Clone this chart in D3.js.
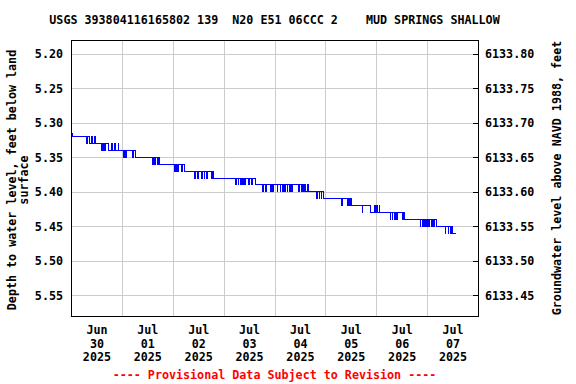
<!DOCTYPE html>
<html>
<head>
<meta charset="utf-8">
<script src="https://cdn.jsdelivr.net/npm/d3@7"></script>
<style>
  html, body { margin: 0; padding: 0; background: #fff; }
  svg { display: block; }
  text { font-family: "DejaVu Sans Mono", monospace; font-weight: bold; font-size: 11.7px; fill: #000; white-space: pre; }
</style>
</head>
<body>
<svg id="chart" width="576" height="384"></svg>
<script>
// ---- data ----
const titleText = "USGS 393804116165802 139  N20 E51 06CCC 2    MUD SPRINGS SHALLOW";
const leftTitle = ["Depth to water level, feet below land", "surface"];
const rightTitle = "Groundwater level above NAVD 1988, feet";
const footerText = "---- Provisional Data Subject to Revision ----";
const startDate = "2025-06-30T00:00:00Z";
const endDate = "2025-07-08T00:00:00Z";
const dayLabels = [["Jun","30","2025"],["Jul","01","2025"],["Jul","02","2025"],["Jul","03","2025"],
                   ["Jul","04","2025"],["Jul","05","2025"],["Jul","06","2025"],["Jul","07","2025"]];
const depthTicks = [5.20, 5.25, 5.30, 5.35, 5.40, 5.45, 5.50, 5.55];
const elevTicks = [6133.80, 6133.75, 6133.70, 6133.65, 6133.60, 6133.55, 6133.50, 6133.45];
const datumOffset = 6139.00; // elevation = datumOffset - depth
// [hours after start, depth in ft below land surface]
const observations = [
  [0.0,5.316],[0.6,5.32],[7.5,5.33],[8.0,5.32],[8.8,5.33],[9.8,5.32],[10.3,5.33],[11.0,5.32],[11.5,5.33],
  [14.3,5.34],[14.7,5.33],[15.2,5.34],[15.6,5.33],[16.0,5.34],[16.4,5.33],[17.5,5.34],
  [19.3,5.33],[19.7,5.34],[20.6,5.33],[21.0,5.34],[22.2,5.33],[22.6,5.34],
  [25.0,5.35],[25.4,5.34],[25.9,5.35],[26.3,5.34],[28.8,5.35],[29.6,5.34],[30.2,5.35],
  [38.4,5.36],[38.8,5.35],[39.3,5.36],[39.7,5.35],[40.9,5.36],[41.4,5.35],[41.9,5.36],
  [48.6,5.37],[49.0,5.36],[49.5,5.37],[49.9,5.36],[50.3,5.37],[50.8,5.36],[52.2,5.37],[52.7,5.36],[53.4,5.37],
  [58.2,5.38],[58.6,5.37],[59.7,5.38],[60.1,5.37],[61.7,5.38],[62.1,5.37],[62.8,5.38],[63.2,5.37],[63.8,5.38],[64.2,5.37],
  [66.4,5.38],[66.8,5.37],[67.2,5.38],
  [77.8,5.39],[78.2,5.38],[78.8,5.39],[79.2,5.38],[79.8,5.39],[80.2,5.38],[80.8,5.39],[81.2,5.38],[81.7,5.39],[82.1,5.38],
  [83.8,5.39],[84.2,5.38],[85.1,5.39],[85.5,5.38],[87.0,5.39],
  [90.4,5.40],[90.8,5.39],[91.7,5.40],[92.1,5.39],[94.0,5.40],[94.4,5.39],[95.2,5.40],[95.6,5.39],
  [97.2,5.40],[97.6,5.39],[98.6,5.40],[99.0,5.39],[99.7,5.40],[100.1,5.39],[100.8,5.40],[101.2,5.39],
  [101.9,5.40],[102.3,5.39],[103.0,5.40],[103.4,5.39],[104.2,5.40],[104.6,5.39],
  [107.4,5.40],[107.8,5.39],[108.6,5.40],[109.0,5.39],[109.6,5.40],[110.0,5.39],[110.4,5.40],[111.8,5.39],[112.2,5.40],
  [116.0,5.41],[116.4,5.40],[117.0,5.41],[117.4,5.40],[118.0,5.41],[118.4,5.40],[118.9,5.41],
  [127.5,5.42],[127.9,5.41],[130.4,5.42],[130.8,5.41],[131.4,5.42],[131.8,5.41],[132.2,5.42],
  [137.3,5.43],[137.7,5.42],[141.1,5.43],
  [143.3,5.42],[143.7,5.43],[144.3,5.42],[144.7,5.43],[145.3,5.42],[145.7,5.43],
  [150.5,5.44],[150.9,5.43],[151.5,5.44],[151.9,5.43],[152.5,5.44],[152.9,5.43],[153.4,5.44],[153.8,5.43],
  [156.3,5.44],[156.7,5.43],[157.2,5.44],
  [164.7,5.45],[165.1,5.44],[165.7,5.45],[166.1,5.44],[166.7,5.45],[167.1,5.44],[167.7,5.45],[168.1,5.44],
  [168.7,5.45],[169.1,5.44],[169.9,5.45],[170.3,5.44],[171.1,5.45],[171.5,5.44],[172.5,5.45],
  [176.5,5.46],[176.9,5.45],[177.9,5.46],[178.3,5.45],[179.0,5.46],[179.4,5.45],[180.0,5.46],[181.4,5.46]
];

// ---- layout ----
const svg = d3.select("#chart");
const L = 71, R = 478, T = 40, B = 316;
const t0 = new Date(startDate), t1 = new Date(endDate);
const x = d3.scaleUtc().domain([t0, t1]).range([L, R]);
const y = d3.scaleLinear().domain([5.18, 5.58]).range([T, B]);
const yR = d3.scaleLinear().domain([datumOffset - 5.18, datumOffset - 5.58]).range([T, B]);
const HOUR = 3600e3;
const midnights = d3.range(1, 8).map(i => new Date(+t0 + i * 24 * HOUR));
const noons = dayLabels.map((d, i) => new Date(+t0 + (i * 24 + 12) * HOUR));

// gridlines
const grid = svg.append("g").attr("shape-rendering", "crispEdges");
grid.selectAll("line.v").data(midnights).join("line")
  .attr("x1", d => Math.round(x(d)) + 0.5).attr("x2", d => Math.round(x(d)) + 0.5)
  .attr("y1", T).attr("y2", B).attr("stroke", "#cccccc");
grid.selectAll("line.h").data(depthTicks).join("line")
  .attr("x1", L).attr("x2", R)
  .attr("y1", d => Math.round(y(d)) + 0.5).attr("y2", d => Math.round(y(d)) + 0.5)
  .attr("stroke", "#cccccc");

// left axis labels
const leftAxis = d3.axisLeft(y).tickValues(depthTicks).tickFormat(d3.format(".2f")).tickSize(0).tickPadding(8);
const gl = svg.append("g").attr("transform", `translate(${L},0)`).call(leftAxis);
gl.select(".domain").remove();
gl.selectAll("text").attr("font-size", null).attr("font-family", null);

// right axis
const rightAxis = d3.axisRight(yR).tickValues(elevTicks).tickFormat(d3.format(".2f")).tickSize(-5).tickPadding(7);
const gr = svg.append("g").attr("transform", `translate(${R},0)`).call(rightAxis);
gr.select(".domain").remove();
gr.selectAll("line").attr("stroke", "#000").attr("shape-rendering", "crispEdges");
gr.selectAll("text").attr("font-size", null).attr("font-family", null);

// bottom axis labels (three lines each, centered at noon)
const bottomAxis = d3.axisBottom(x).tickValues(noons).tickSize(0).tickFormat("");
const gb = svg.append("g").attr("transform", `translate(0,${B})`).call(bottomAxis);
gb.select(".domain").remove();
gb.selectAll(".tick").each(function(d, i) {
  const t = d3.select(this).append("text").attr("text-anchor", "middle").attr("fill", "#000");
  dayLabels[i].forEach((s, j) => t.append("tspan").attr("x", 0).attr("y", 18 + j * 13.5).text(s));
});

// data line
const line = d3.line()
  .x(d => x(new Date(+t0 + d[0] * HOUR)))
  .y(d => y(d[1]))
  .curve(d3.curveStepAfter);
svg.append("path").datum(observations)
  .attr("d", line).attr("fill", "none").attr("stroke", "#0000ff")
  .attr("stroke-width", 1).attr("shape-rendering", "crispEdges");

// frame
svg.append("rect").attr("x", L + 0.5).attr("y", T + 0.5).attr("width", R - L).attr("height", B - T)
  .attr("fill", "none").attr("stroke", "#000").attr("shape-rendering", "crispEdges");

// titles
svg.append("text").attr("x", (L + R) / 2).attr("y", 24).attr("text-anchor", "middle")
  .attr("xml:space", "preserve").text(titleText);
const lt = svg.append("text").attr("transform", `translate(0,180) rotate(-90)`).attr("text-anchor", "middle");
lt.append("tspan").attr("x", 0).attr("y", 16).text(leftTitle[0]);
lt.append("tspan").attr("x", 0).attr("y", 27.5).text(leftTitle[1]);
svg.append("text").attr("transform", `translate(561,178) rotate(-90)`).attr("text-anchor", "middle").text(rightTitle);
svg.append("text").attr("x", (L + R) / 2).attr("y", 379).attr("text-anchor", "middle").style("fill", "#ff0000").text(footerText);
</script>
</body>
</html>
